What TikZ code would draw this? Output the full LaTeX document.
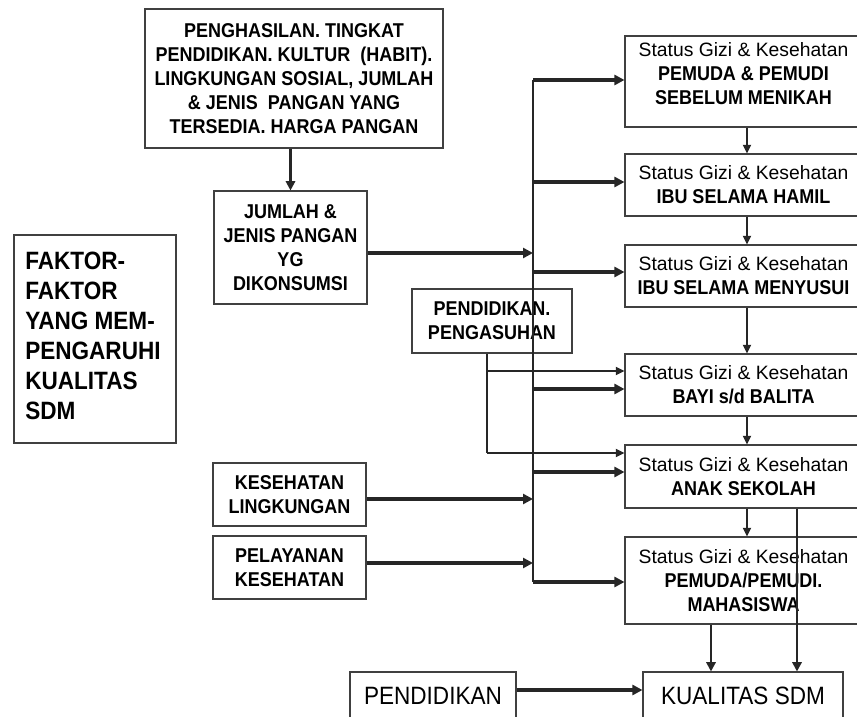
\documentclass[tikz,border=0pt]{standalone}
\usepackage{fontspec}
\setmainfont{Liberation Sans}
\newfontfamily\condfont[FakeStretch=0.9]{Liberation Sans}
\usetikzlibrary{arrows.meta}
\begin{document}
\begin{tikzpicture}[x=0.75pt,y=-0.75pt,
  box/.style={draw=black!75, line width=0.8pt, fill=white, inner sep=0pt, align=center},
  wh/.style 2 args={minimum width=#1*0.75pt, minimum height=#2*0.75pt},
  bl/.style={font=\condfont\fontsize{15}{18}\selectfont\bfseries},
  big/.style={font=\condfont\fontsize{18.8}{22.5}\selectfont},
  tarr/.style={draw=black!85, line width=2.6pt, -{Triangle[length=7.5pt,width=7.5pt]}},
  marr/.style={draw=black!85, line width=1.6pt, -{Triangle[length=7pt,width=7pt]}},
  sarr/.style={draw=black!85, line width=1.3pt, -{Triangle[length=6.5pt,width=6pt]}},
  bline/.style={draw=black!85, line width=2pt},
  pline/.style={draw=black!85, line width=1.4pt},
]
\useasboundingbox (0,0) rectangle (857,717);
\clip (0,0) rectangle (857,717);
\newcommand{\stl}{{\rmfamily\mdseries\fontsize{14.5}{18}\selectfont Status Gizi \& Kesehatan}}

% left column
\node[box, wh={298}{139}, bl] (top) at (294,78.5)
  {PENGHASILAN. TINGKAT\\PENDIDIKAN. KULTUR \ (HABIT).\\LINGKUNGAN SOSIAL, JUMLAH\\\& JENIS \ PANGAN YANG\\TERSEDIA. HARGA PANGAN};
\node[box, wh={153}{113}, bl] (jum) at (290.5,247.5)
  {JUMLAH \&\\JENIS PANGAN\\YG\\DIKONSUMSI};
\node[box, wh={162}{208}] (fak) at (95,339) {};
\node[font=\condfont\fontsize{18.8}{22.5}\selectfont\bfseries, align=left, anchor=west, inner sep=0pt] (fakt) at (25,336)
  {FAKTOR-\\FAKTOR\\YANG MEM-\\PENGARUHI\\KUALITAS\\SDM};
\node[box, wh={153}{63}, bl] (kes) at (289.5,494.5) {KESEHATAN\\LINGKUNGAN};
\node[box, wh={153}{63}, bl] (pel) at (289.5,567.5) {PELAYANAN\\KESEHATAN};
\node[box, wh={166}{48}, big] (pend) at (433,696) {PENDIDIKAN};
\node[box, wh={160}{64}, bl] (peng) at (492,321) {PENDIDIKAN.\\PENGASUHAN};

% right column
\node[box, wh={237}{91}] (r1) at (743.5,81.5) {};
\node[bl, align=center, inner sep=0pt] (r1t) at (743.5,74)
  {\stl\\PEMUDA \& PEMUDI\\SEBELUM MENIKAH};
\node[box, wh={237}{62}, bl] (r2) at (743.5,185) {\stl\\IBU SELAMA HAMIL};
\node[box, wh={237}{62}, bl] (r3) at (743.5,276) {\stl\\IBU SELAMA MENYUSUI};
\node[box, wh={237}{62}, bl] (r4) at (743.5,385) {\stl\\BAYI s/d BALITA};
\node[box, wh={237}{63}, bl] (r5) at (743.5,476.5) {\stl\\ANAK SEKOLAH};
\node[box, wh={237}{87}, bl] (r6) at (743.5,580.5) {\stl\\PEMUDA/PEMUDI.\\MAHASISWA};
\node[box, wh={200}{48}, big] (kual) at (743,696) {KUALITAS SDM};

% coordinates
\coordinate (busT) at (533,80);
\coordinate (busB) at (533,582);
\coordinate (bj) at (533,253);
\coordinate (b2) at (533,182);
\coordinate (b3) at (533,272);
\coordinate (b4) at (533,389);
\coordinate (b5) at (533,472);
\coordinate (bk) at (533,499);
\coordinate (bp) at (533,563);
\coordinate (pg1) at (487,371);
\coordinate (pg2) at (487,453);
\coordinate (cx) at (747,0);
\coordinate (k1) at (711,0);
\coordinate (k2) at (797,0);
\coordinate (ky) at (0,690);

% connectors
\draw[marr] (jum.north |- top.south) -- (jum.north);
\draw[bline] (busT) -- (busB);
\draw[tarr] (jum.east |- bj) -- (bj);
\draw[tarr] (kes.east |- bk) -- (bk);
\draw[tarr] (pel.east |- bp) -- (bp);
\draw[tarr] (busT) -- (busT -| r1.west);
\draw[tarr] (b2) -- (b2 -| r2.west);
\draw[tarr] (b3) -- (b3 -| r3.west);
\draw[tarr] (b4) -- (b4 -| r4.west);
\draw[tarr] (b5) -- (b5 -| r5.west);
\draw[tarr] (busB) -- (busB -| r6.west);
\draw[pline] (peng.south -| pg1) -- (pg2);
\draw[sarr] (pg1) -- (pg1 -| r4.west);
\draw[sarr] (pg2) -- (pg2 -| r5.west);
\draw[sarr] (r1.south -| cx) -- (r2.north -| cx);
\draw[sarr] (r2.south -| cx) -- (r3.north -| cx);
\draw[sarr] (r3.south -| cx) -- (r4.north -| cx);
\draw[sarr] (r4.south -| cx) -- (r5.north -| cx);
\draw[sarr] (r5.south -| cx) -- (r6.north -| cx);
\draw[marr] (r6.south -| k1) -- (kual.north -| k1);
\draw[marr] (r5.south -| k2) -- (kual.north -| k2);
\draw[tarr] (pend.east |- ky) -- (kual.west |- ky);
\end{tikzpicture}
\end{document}
